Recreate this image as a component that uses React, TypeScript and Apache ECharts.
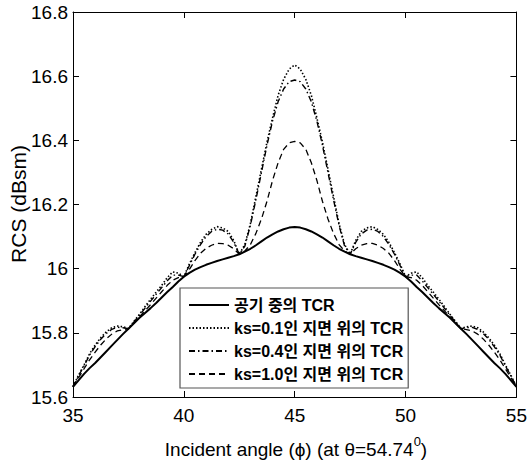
import React, { useEffect, useRef } from "react";
import * as echarts from "echarts";

const angles = [
  35, 35.25, 35.5, 35.75, 36, 36.25, 36.5, 36.75, 37, 37.25, 37.5, 37.75, 38, 38.25, 38.5, 38.75, 39, 39.25, 39.5, 39.75,
  40, 40.25, 40.5, 40.75, 41, 41.25, 41.5, 41.75, 42, 42.25, 42.5, 42.75, 43, 43.25, 43.5, 43.75, 44, 44.25, 44.5, 44.75,
  45, 45.25, 45.5, 45.75, 46, 46.25, 46.5, 46.75, 47, 47.25, 47.5, 47.75, 48, 48.25, 48.5, 48.75, 49, 49.25, 49.5, 49.75,
  50, 50.25, 50.5, 50.75, 51, 51.25, 51.5, 51.75, 52, 52.25, 52.5, 52.75, 53, 53.25, 53.5, 53.75, 54, 54.25, 54.5, 54.75, 55,
];

const rcsAir = [
  15.632, 15.652, 15.672, 15.690, 15.706, 15.724, 15.742, 15.760, 15.778, 15.796, 15.813,
  15.830, 15.847, 15.862, 15.877, 15.893, 15.910, 15.927, 15.943, 15.960, 15.975,
  15.987, 15.997, 16.005, 16.012, 16.018, 16.024, 16.029, 16.034, 16.039, 16.045,
  16.053, 16.062, 16.073, 16.085, 16.097, 16.107, 16.116, 16.123, 16.128, 16.130,
  16.128, 16.123, 16.116, 16.107, 16.097, 16.085, 16.073, 16.062, 16.053, 16.045,
  16.039, 16.034, 16.029, 16.024, 16.018, 16.012, 16.005, 15.997, 15.987, 15.975,
  15.960, 15.943, 15.927, 15.910, 15.893, 15.877, 15.862, 15.847, 15.830, 15.813,
  15.796, 15.778, 15.760, 15.742, 15.724, 15.706, 15.690, 15.672, 15.652, 15.632,
];

const rcsKs01 = [
  15.632, 15.668, 15.700, 15.735, 15.762, 15.785, 15.803, 15.816, 15.821, 15.819, 15.813,
  15.836, 15.858, 15.882, 15.905, 15.927, 15.948, 15.972, 15.990, 15.986, 15.975,
  16.015, 16.050, 16.082, 16.107, 16.122, 16.131, 16.127, 16.116, 16.088, 16.045,
  16.075, 16.140, 16.225, 16.310, 16.395, 16.470, 16.540, 16.590, 16.622, 16.635,
  16.622, 16.590, 16.540, 16.470, 16.395, 16.310, 16.225, 16.140, 16.075, 16.045,
  16.088, 16.116, 16.127, 16.131, 16.122, 16.107, 16.082, 16.050, 16.015, 15.975,
  15.986, 15.990, 15.972, 15.948, 15.927, 15.905, 15.882, 15.858, 15.836, 15.813,
  15.819, 15.821, 15.816, 15.803, 15.785, 15.762, 15.735, 15.700, 15.668, 15.632,
];

const rcsKs04 = [
  15.632, 15.666, 15.697, 15.731, 15.757, 15.780, 15.798, 15.811, 15.817, 15.816, 15.813,
  15.834, 15.855, 15.877, 15.899, 15.920, 15.941, 15.962, 15.980, 15.980, 15.975,
  16.010, 16.045, 16.075, 16.100, 16.116, 16.123, 16.120, 16.108, 16.082, 16.045,
  16.070, 16.135, 16.215, 16.300, 16.385, 16.460, 16.520, 16.560, 16.583, 16.588,
  16.583, 16.560, 16.520, 16.460, 16.385, 16.300, 16.215, 16.135, 16.070, 16.045,
  16.082, 16.108, 16.120, 16.123, 16.116, 16.100, 16.075, 16.045, 16.010, 15.975,
  15.980, 15.980, 15.962, 15.941, 15.920, 15.899, 15.877, 15.855, 15.834, 15.813,
  15.816, 15.817, 15.811, 15.798, 15.780, 15.757, 15.731, 15.697, 15.666, 15.632,
];

const rcsKs10 = [
  15.632, 15.660, 15.688, 15.716, 15.740, 15.762, 15.781, 15.796, 15.806, 15.810, 15.813,
  15.830, 15.850, 15.869, 15.888, 15.908, 15.928, 15.948, 15.964, 15.972, 15.975,
  15.998, 16.025, 16.048, 16.063, 16.073, 16.079, 16.078, 16.073, 16.062, 16.045,
  16.055, 16.075, 16.110, 16.155, 16.210, 16.275, 16.330, 16.372, 16.392, 16.397,
  16.392, 16.372, 16.330, 16.275, 16.210, 16.155, 16.110, 16.075, 16.055, 16.045,
  16.062, 16.073, 16.078, 16.079, 16.073, 16.063, 16.048, 16.025, 15.998, 15.975,
  15.972, 15.964, 15.948, 15.928, 15.908, 15.888, 15.869, 15.850, 15.830, 15.813,
  15.810, 15.806, 15.796, 15.781, 15.762, 15.740, 15.716, 15.688, 15.660, 15.632,
];

const seriesNames = [
  "공기 중의 TCR",
  "ks=0.1인 지면 위의 TCR",
  "ks=0.4인 지면 위의 TCR",
  "ks=1.0인 지면 위의 TCR",
];

const xTitle = "Incident angle (ϕ) (at θ=54.74";
const xTitleSup = "0";
const yTitle = "RCS (dBsm)";

const FONT = "'Liberation Sans', Arial, Helvetica, sans-serif";
const LEGEND_FONT = "'Liberation Sans', 'Noto Sans CJK KR', sans-serif";

export default function App() {
  const ref = useRef<HTMLDivElement>(null);

  useEffect(() => {
    if (!ref.current) return;
    const chart = echarts.init(ref.current, undefined, { renderer: "svg" });
    const pairs = (ys: number[]) => angles.map((a, i) => [a, ys[i]]);

    const lineSeries = (name: string, ys: number[], type: any, width: number) => ({
      name,
      type: "line",
      data: pairs(ys),
      showSymbol: false,
      symbol: "none",
      smooth: false,
      lineStyle: { color: "#000", width, type },
      itemStyle: { color: "#000" },
      xAxisIndex: 0,
      yAxisIndex: 0,
    });

    const axisCommon = {
      axisLine: { show: true, onZero: false, lineStyle: { color: "#000", width: 1 } },
      axisTick: { show: true, inside: true, length: 6, lineStyle: { color: "#000" } },
      splitLine: { show: false },
    };

    chart.setOption({
      animation: false,
      backgroundColor: "#fff",
      grid: { left: 73, right: 10, top: 12, bottom: 64, containLabel: false },
      xAxis: [
        {
          type: "value",
          min: 35,
          max: 55,
          interval: 5,
          position: "bottom",
          ...axisCommon,
          axisLabel: { color: "#000", fontSize: 19, fontFamily: FONT, margin: 9 },
        },
        {
          type: "value",
          min: 35,
          max: 55,
          interval: 5,
          position: "top",
          ...axisCommon,
          axisLabel: { show: false },
        },
      ],
      yAxis: [
        {
          type: "value",
          min: 15.6,
          max: 16.8,
          interval: 0.2,
          position: "left",
          ...axisCommon,
          axisLabel: {
            color: "#000",
            fontSize: 19,
            fontFamily: FONT,
            margin: 5,
            formatter: (v: number) => String(Number(v.toFixed(1))),
          },
        },
        {
          type: "value",
          min: 15.6,
          max: 16.8,
          interval: 0.2,
          position: "right",
          ...axisCommon,
          axisLabel: { show: false },
        },
      ],
      legend: {
        orient: "vertical",
        left: 180,
        top: 288,
        padding: [9, 5, 6, 8],
        itemGap: 7,
        itemWidth: 40,
        itemHeight: 16,
        backgroundColor: "#fff",
        borderColor: "#555",
        borderWidth: 1.2,
        borderRadius: 0,
        itemStyle: { opacity: 0 },
        textStyle: { color: "#000", fontSize: 16, fontWeight: "bold", fontFamily: LEGEND_FONT },
        data: seriesNames,
      },
      graphic: [
        {
          type: "text",
          x: 296,
          y: 447,
          style: {
            text: `{a|${xTitle}}{s|${xTitleSup}}{a|)}`,
            align: "center",
            verticalAlign: "middle",
            rich: {
              a: { fontSize: 19, fontFamily: FONT, fill: "#000", lineHeight: 24, verticalAlign: "bottom" },
              s: { fontSize: 13, fontFamily: FONT, fill: "#000", lineHeight: 24, verticalAlign: "top" },
            },
          },
        },
        {
          type: "text",
          x: 18,
          y: 204,
          rotation: Math.PI / 2,
          style: {
            text: yTitle,
            fontSize: 21,
            fontFamily: FONT,
            fill: "#000",
            align: "center",
            verticalAlign: "middle",
          },
        },
      ],
      series: [
        lineSeries(seriesNames[0], rcsAir, "solid", 2),
        lineSeries(seriesNames[1], rcsKs01, [1.5, 2], 1.6),
        lineSeries(seriesNames[2], rcsKs04, [6, 3, 1.5, 3], 1.4),
        lineSeries(seriesNames[3], rcsKs10, [6, 4], 1.3),
      ],
    });

    return () => chart.dispose();
  }, []);

  return (
    <div
      ref={ref}
      style={{ position: "fixed", left: 0, top: 0, width: 530, height: 461, background: "#fff" }}
    />
  );
}
